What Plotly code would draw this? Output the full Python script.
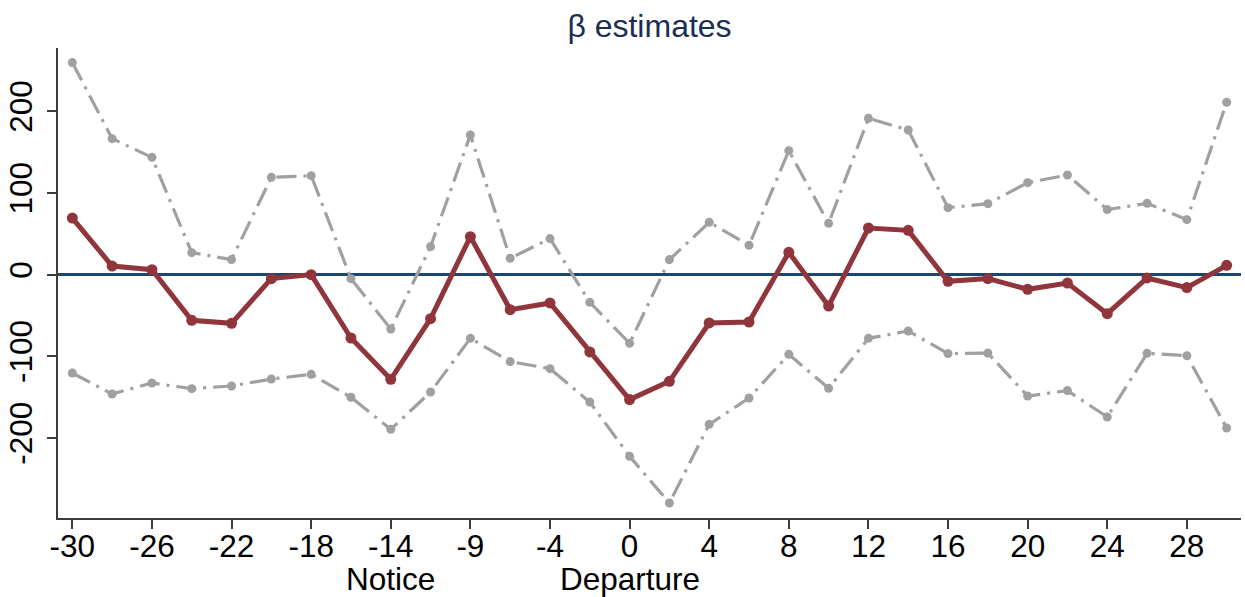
import plotly.graph_objects as go

# ---- data ----
idx = list(range(30))
beta = [69.3, 10.5, 6.1, -56.0, -59.6, -4.9, 0.0, -77.6, -128.2, -53.9,
        46.5, -42.9, -34.7, -94.7, -153.0, -130.6, -59.2, -58.0, 27.3, -38.4,
        57.1, 54.2, -8.2, -4.9, -18.0, -10.3, -47.8, -4.1, -15.9, 11.4]
upper = [259.6, 166.5, 143.6, 26.9, 18.4, 119.1, 121.2, -4.9, -66.6, 34.3,
         171.0, 20.0, 44.1, -33.9, -84.1, 18.4, 64.0, 35.9, 151.8, 62.8,
         191.4, 177.1, 82.0, 86.9, 112.6, 122.0, 79.6, 87.3, 67.3, 211.0]
lower = [-120.5, -146.2, -132.7, -139.6, -136.4, -127.8, -122.1, -150.2, -189.4, -143.7,
         -78.0, -106.5, -115.1, -156.0, -222.5, -279.7, -183.3, -151.1, -97.6, -139.2,
         -78.0, -69.0, -96.7, -96.0, -148.6, -142.0, -174.3, -96.4, -99.2, -187.8]
tick_pos = list(range(0, 30, 2))
tick_labels = ["-30", "-26", "-22", "-18", "-14", "-9", "-4", "0",
               "4", "8", "12", "16", "20", "24", "28"]
event_pos = [8, 14]
event_labels = ["Notice", "Departure"]
y_ticks = [-200, -100, 0, 100, 200]
y_tick_labels = ["-200", "-100", "0", "100", "200"]

FONT = "Liberation Sans, Arial, Helvetica, sans-serif"
RED = "rgb(144,53,59)"
GREY = "rgb(160,160,160)"
NAVY = "rgb(26,71,111)"
FS = 31.5

fig = go.Figure()
for ci in (upper, lower):
    fig.add_trace(go.Scatter(
        x=idx, y=ci, mode="lines+markers",
        line=dict(color=GREY, width=3.2, dash="20px,7px,3px,7px"),
        marker=dict(color=GREY, size=9),
        showlegend=False, hoverinfo="skip"))
fig.add_trace(go.Scatter(
    x=idx, y=beta, mode="lines+markers",
    line=dict(color=RED, width=5),
    marker=dict(color=RED, size=11),
    showlegend=False))

for p, t in zip(event_pos, event_labels):
    fig.add_annotation(x=p, xref="x", y=-0.13, yref="paper",
                       text=t, showarrow=False, yanchor="middle",
                       font=dict(family=FONT, size=FS, color="black"))

fig.update_layout(
    width=1245, height=597,
    margin=dict(l=58, r=4, t=48, b=79, autoexpand=False),
    paper_bgcolor="white", plot_bgcolor="white",
    title=dict(text="β estimates", x=649.5 / 1245,
               xanchor="center", y=1 - 26 / 597, yanchor="middle",
               automargin=False,
               font=dict(family=FONT, size=32, color="rgb(28,45,85)")),
    font=dict(family=FONT, color="black"),
)
fig.update_xaxes(
    range=[-0.36, 29.36], tickvals=tick_pos, ticktext=tick_labels,
    automargin=False, ticklabelstandoff=-10,
    showline=True, linecolor="rgb(60,60,60)", linewidth=1.5,
    ticks="outside", ticklen=9, tickwidth=1.5, tickcolor="rgb(60,60,60)",
    showgrid=False, zeroline=False,
    tickfont=dict(family=FONT, size=FS, color="black"))
fig.update_yaxes(
    range=[-298, 277.5], tickvals=y_ticks, ticktext=y_tick_labels, tickangle=-90,
    automargin=False, ticklabelstandoff=3,
    showline=True, linecolor="rgb(60,60,60)", linewidth=1.5,
    ticks="outside", ticklen=9, tickwidth=1.5, tickcolor="rgb(60,60,60)",
    showgrid=False, zeroline=True, zerolinecolor=NAVY, zerolinewidth=3,
    tickfont=dict(family=FONT, size=FS, color="black"))

fig.write_html("out.html", config={"displayModeBar": False},
               post_script="document.body.style.margin='0';document.body.style.padding='0';")
